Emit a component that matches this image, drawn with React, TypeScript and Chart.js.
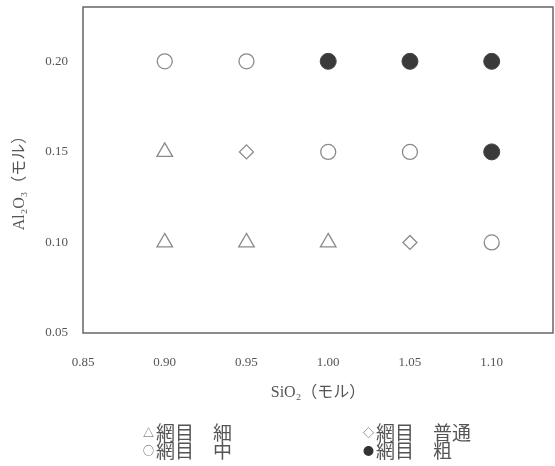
import React, { useEffect, useRef } from "react";
import { Chart, registerables } from "chart.js";

Chart.register(...registerables);

const xTickValues = [0.85, 0.9, 0.95, 1.0, 1.05, 1.1];
const yTickValues = [0.05, 0.1, 0.15, 0.2];

const fineX = [0.9, 0.9, 0.95, 1.0];
const fineY = [0.15, 0.1, 0.1, 0.1];
const mediumX = [0.9, 0.95, 1.0, 1.05, 1.1];
const mediumY = [0.2, 0.2, 0.15, 0.15, 0.1];
const normalX = [0.95, 1.05];
const normalY = [0.15, 0.1];
const coarseX = [1.0, 1.05, 1.1, 1.1];
const coarseY = [0.2, 0.2, 0.2, 0.15];

const seriesLabels = ["網目　細", "網目　中", "網目　普通", "網目　粗"];
const xTitle = "SiO₂（モル）";
const yTitle = "Al₂O₃（モル）";

const toPts = (xs: number[], ys: number[]) => xs.map((x, i) => ({ x, y: ys[i] }));

const W = 555;
const H = 466;

export default function App() {
  const ref = useRef<HTMLCanvasElement | null>(null);

  useEffect(() => {
    if (!ref.current) return;
    const textColor = "#555";
    const boxPlugin = {
      id: "boxAndTitles",
      afterDraw(chart: any) {
        const { ctx, chartArea } = chart;
        const { left, top, right, bottom } = chartArea;
        ctx.save();
        ctx.strokeStyle = "#666";
        ctx.lineWidth = 1.5;
        ctx.strokeRect(left, top, right - left, bottom - top);
        ctx.fillStyle = textColor;
        ctx.font = '16px "Liberation Serif", "Noto Sans CJK JP", serif';
        ctx.textAlign = "center";
        ctx.textBaseline = "middle";
        ctx.fillText(xTitle, (left + right) / 2, 393);
        ctx.translate(20, 179);
        ctx.rotate(-Math.PI / 2);
        ctx.fillText(yTitle, 0, 0);
        ctx.restore();
      },
    };

    const chart = new Chart(ref.current, {
      type: "scatter",
      data: {
        datasets: [
          {
            label: seriesLabels[0],
            data: toPts(fineX, fineY),
            pointStyle: "triangle",
            pointRadius: 9,
            borderColor: "#8a8a8a",
            backgroundColor: "rgba(255,255,255,0)",
            borderWidth: 1.3,
          },
          {
            label: seriesLabels[1],
            data: toPts(mediumX, mediumY),
            pointStyle: "circle",
            pointRadius: 7.5,
            borderColor: "#8a8a8a",
            backgroundColor: "rgba(255,255,255,0)",
            borderWidth: 1.3,
          },
          {
            label: seriesLabels[2],
            data: toPts(normalX, normalY),
            pointStyle: "rectRot",
            pointRadius: 7,
            borderColor: "#8a8a8a",
            backgroundColor: "rgba(255,255,255,0)",
            borderWidth: 1.3,
          },
          {
            label: seriesLabels[3],
            data: toPts(coarseX, coarseY),
            pointStyle: "circle",
            pointRadius: 8,
            borderColor: "#444",
            backgroundColor: "#3a3a3a",
            borderWidth: 1,
          },
        ],
      },
      options: {
        responsive: false,
        animation: false,
        layout: { autoPadding: false, padding: { left: 0, top: 7, right: 2, bottom: 0 } },
        plugins: { legend: { display: false }, tooltip: { enabled: false } },
        scales: {
          x: {
            type: "linear",
            min: 0.85,
            max: 1.1375,
            grid: { display: false, drawTicks: false },
            border: { display: false },
            afterBuildTicks: (scale: any) => {
              scale.ticks = xTickValues.map((v) => ({ value: v }));
            },
            afterFit: (scale: any) => {
              scale.height = H - 333;
              scale.paddingLeft = 0;
              scale.paddingRight = 0;
            },
            ticks: {
              padding: 22,
              color: textColor,
              font: { family: '"Liberation Serif", serif', size: 13 },
              callback: (v: any) => Number(v).toFixed(2),
            },
          },
          y: {
            type: "linear",
            min: 0.05,
            max: 0.23,
            grid: { display: false, drawTicks: false },
            border: { display: false },
            afterBuildTicks: (scale: any) => {
              scale.ticks = yTickValues.map((v) => ({ value: v }));
            },
            afterFit: (scale: any) => {
              scale.width = 83;
              scale.paddingTop = 0;
              scale.paddingBottom = 0;
            },
            ticks: {
              padding: 15,
              color: textColor,
              font: { family: '"Liberation Serif", serif', size: 13 },
              callback: (v: any) => Number(v).toFixed(2),
            },
          },
        },
      },
      plugins: [boxPlugin],
    } as any);
    return () => chart.destroy();
  }, []);

  const legendFont: React.CSSProperties = {
    fontFamily: '"Noto Sans CJK JP", sans-serif',
    fontSize: 19,
    lineHeight: "18px",
    color: "#555",
    whiteSpace: "pre",
    position: "absolute",
  };
  const mark: React.CSSProperties = { fontSize: 11, display: "inline-block", width: 13, verticalAlign: "3px" };

  return (
    <div style={{ position: "absolute", left: 0, top: 0, width: W, height: H, background: "#fff" }}>
      <canvas ref={ref} width={W} height={H} style={{ display: "block" }} />
      <div style={{ ...legendFont, left: 143, top: 423 }}>
        <div><span style={mark}>△</span>{seriesLabels[0]}</div>
        <div><span style={mark}>○</span>{seriesLabels[1]}</div>
      </div>
      <div style={{ ...legendFont, left: 363, top: 423 }}>
        <div><span style={mark}>◇</span>{seriesLabels[2]}</div>
        <div><span style={{ ...mark, color: "#333" }}>●</span>{seriesLabels[3]}</div>
      </div>
    </div>
  );
}
